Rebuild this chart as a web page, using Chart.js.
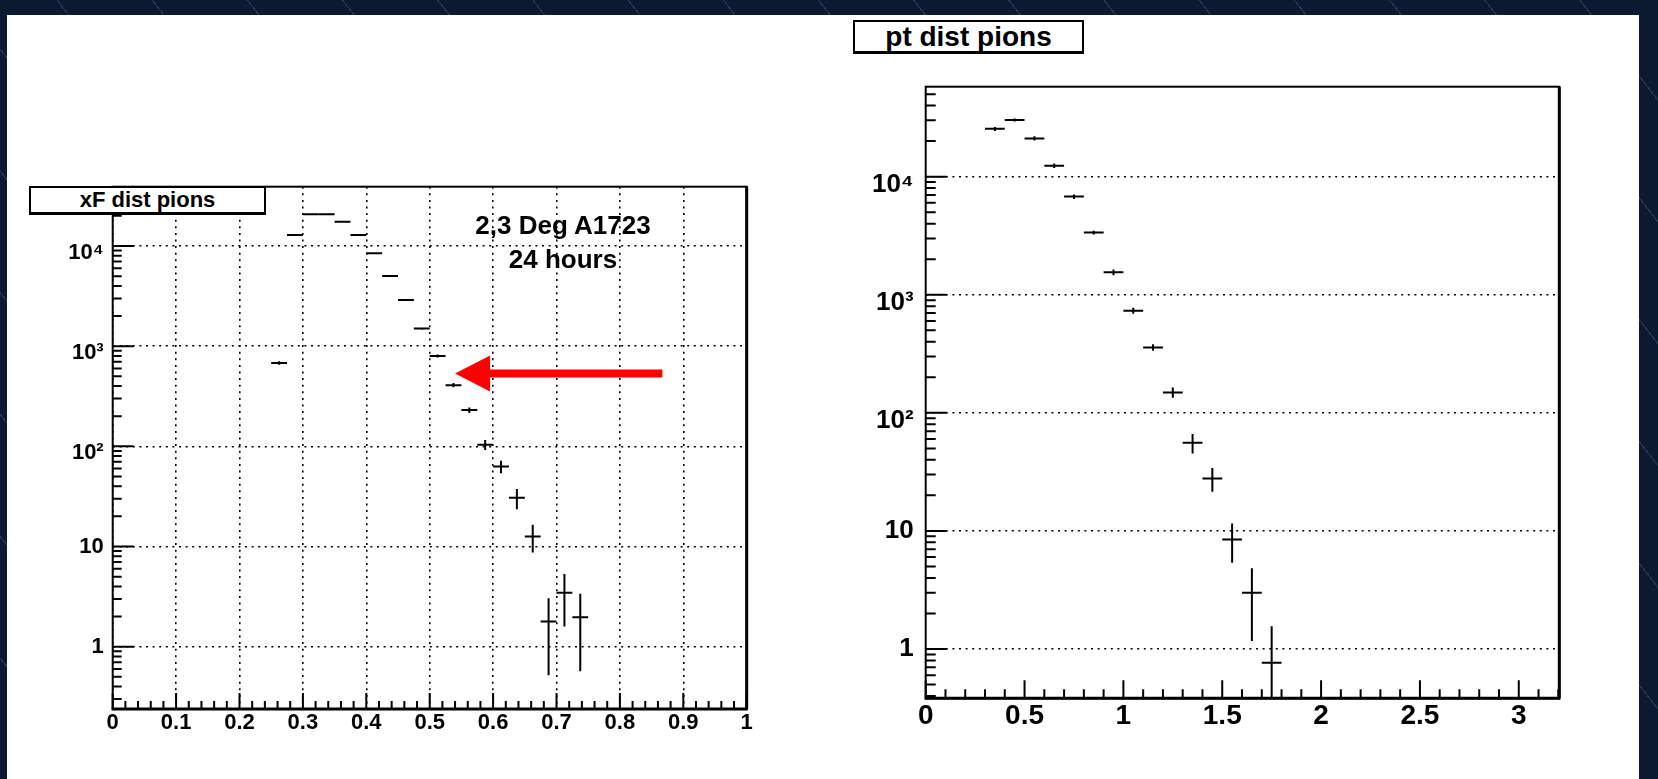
<!DOCTYPE html>
<html>
<head>
<meta charset="utf-8">
<title>xF and pt dist pions</title>
<script src="https://cdn.jsdelivr.net/npm/chart.js@4.4.0/dist/chart.umd.min.js"></script>
<style>
    html, body { margin: 0; padding: 0; }
    body {
        position: relative;
        width: 1658px;
        height: 779px;
        overflow: hidden;
        background-color: #0b1a31;
        background-image: repeating-linear-gradient(52deg, rgba(0,0,0,0) 0 74px, rgba(110,130,165,0.35) 74px 75px);
    }
    .sheet { position: absolute; left: 7px; top: 15px; width: 1632px; height: 764px; background: #fff; z-index: 0; }
    canvas { position: absolute; top: 0; z-index: 1; }
    #xfChart { left: 0; }
    #ptChart { left: 800px; }
    .pave {
        position: absolute;
        z-index: 2;
        box-sizing: border-box;
        background: #fff;
        border: 2px solid #000;
        border-bottom-width: 3px;
        color: #000;
        font-family: "Liberation Sans", "DejaVu Sans", sans-serif;
        font-weight: bold;
        display: flex;
        align-items: center;
        justify-content: center;
    }
    #xfTitle { left: 29px; top: 186px; width: 237px; height: 29px; font-size: 22px; }
    #ptTitle { left: 853px; top: 20px; width: 231px; height: 34px; font-size: 28px; }
    .note {
        position: absolute;
        z-index: 2;
        left: 443px;
        top: 208px;
        width: 240px;
        text-align: center;
        color: #000;
        font-family: "Liberation Sans", "DejaVu Sans", sans-serif;
        font-weight: bold;
        font-size: 26px;
        line-height: 34px;
    }
</style>
</head>
<body>
<div class="sheet"></div>
<canvas id="xfChart" width="800" height="779"></canvas>
<canvas id="ptChart" width="858" height="779"></canvas>
<div class="pave" id="xfTitle">xF dist pions</div>
<div class="pave" id="ptTitle">pt dist pions</div>
<div class="note">2,3 Deg A1723<br>24 hours</div>

<script>
// xF distribution: bin centres, contents, errors
const xfBins = [0.2625, 0.2875, 0.3125, 0.3375, 0.3625, 0.3875, 0.4125, 0.4375, 0.4625, 0.4875,
                0.5125, 0.5375, 0.5625, 0.5875, 0.6125, 0.6375, 0.6625, 0.6875, 0.7125, 0.7375];
const xfCounts = [681, 12900, 20700, 20700, 17500, 12900, 8460, 5020, 2890, 1500,
                  800, 408, 230, 104, 63, 30.6, 12.6, 1.78, 3.46, 1.97];
const xfErrors = [27, 120, 150, 400, 130, 115, 95, 75, 55, 40,
                  28, 20, 15, 12, 9, 7, 3.9, 1.26, 1.87, 1.4];
const xfHalfWidth = 0.0125;

// pt distribution: bin centres, contents, errors
const ptBins = [0.35, 0.45, 0.55, 0.65, 0.75, 0.85, 0.95, 1.05, 1.15, 1.25, 1.35, 1.45, 1.55, 1.65, 1.75];
const ptCounts = [25400, 30200, 21100, 12400, 6780, 3360, 1550, 733, 358, 149, 55.7, 27.8, 8.47, 3.0, 0.766];
const ptErrors = [1000, 900, 900, 550, 300, 120, 90, 43, 23, 15, 10.5, 6.3, 3.1, 1.83, 0.79];
const ptHalfWidth = 0.05;

// tick labels
const xfTickLabels = ["0", "0.1", "0.2", "0.3", "0.4", "0.5", "0.6", "0.7", "0.8", "0.9", "1"];
const ptTickLabels = ["0", "0.5", "1", "1.5", "2", "2.5", "3"];
const decadeValues = [1, 10, 100, 1000, 10000];
const decadeLabels = ["1", "10", "10²", "10³", "10⁴"];

// red arrow on the xF plot (data units)
const arrowTail = { x: 0.867, y: 533 };
const arrowTip = { x: 0.54, y: 533 };

const FONT = '"Liberation Sans", "DejaVu Sans", sans-serif';

function onStep(v, n) {
    return Math.abs(v * n - Math.round(v * n)) < 1e-6;
}

function linearTicks(max, step) {
    const out = [];
    for (let i = 0; i * step <= max + 1e-9; i++) {
        out.push({ value: Math.round(i * step * 1000) / 1000 });
    }
    return out;
}

function logTicks(min, max) {
    const out = [];
    for (let e = Math.floor(Math.log10(min)); e <= Math.ceil(Math.log10(max)); e++) {
        for (let m = 1; m < 10; m++) {
            const v = m * Math.pow(10, e);
            if (v >= min && v <= max) out.push({ value: v, major: m === 1 });
        }
    }
    return out;
}

function decadeLabel(value) {
    const i = decadeValues.indexOf(value);
    if (i < 0) return "";
    return i >= 2 ? ["", decadeLabels[i]] : decadeLabels[i];
}

// horizontal bin width + vertical error, ROOT style
const binErrors = {
    id: "binErrors",
    afterDatasetsDraw(chart) {
        const { ctx, chartArea: a, scales: { x, y } } = chart;
        ctx.save();
        ctx.beginPath();
        ctx.rect(a.left, a.top, a.width, a.height);
        ctx.clip();
        ctx.strokeStyle = "#000";
        ctx.lineWidth = 2;
        chart.data.datasets[0].data.forEach(p => {
            const py = y.getPixelForValue(p.y);
            const px = x.getPixelForValue(p.x);
            const lo = p.y - p.err > y.min ? y.getPixelForValue(p.y - p.err) : a.bottom;
            ctx.beginPath();
            ctx.moveTo(x.getPixelForValue(p.x - p.hw), py);
            ctx.lineTo(x.getPixelForValue(p.x + p.hw), py);
            ctx.moveTo(px, lo);
            ctx.lineTo(px, y.getPixelForValue(p.y + p.err));
            ctx.stroke();
        });
        ctx.restore();
    }
};

// frame and inward tick marks
const rootFrame = {
    id: "rootFrame",
    afterDraw(chart, args, o) {
        const { ctx, chartArea: a, scales: { x, y } } = chart;
        ctx.save();
        ctx.strokeStyle = "#000";
        ctx.lineWidth = 2;
        ctx.beginPath();
        x.ticks.forEach(t => {
            const px = x.getPixelForValue(t.value);
            const len = onStep(t.value, o.xMajorEvery) ? o.xMajor : o.xMinor;
            ctx.moveTo(px, a.bottom);
            ctx.lineTo(px, a.bottom - len);
        });
        y.ticks.forEach(t => {
            const py = y.getPixelForValue(t.value);
            ctx.moveTo(a.left, py);
            ctx.lineTo(a.left + (t.major ? o.yMajor : o.yMinor), py);
        });
        ctx.stroke();
        ctx.strokeRect(a.left, a.top, a.width, a.height);
        ctx.lineWidth = 3;
        ctx.beginPath();
        ctx.moveTo(a.left - 1, a.bottom);
        ctx.lineTo(a.right + 1, a.bottom);
        ctx.moveTo(a.right, a.top);
        ctx.lineTo(a.right, a.bottom);
        ctx.stroke();
        ctx.restore();
    }
};

const redArrow = {
    id: "redArrow",
    afterDraw(chart) {
        const { ctx, scales: { x, y } } = chart;
        const tx = x.getPixelForValue(arrowTail.x);
        const hx = x.getPixelForValue(arrowTip.x);
        const cy = y.getPixelForValue(arrowTip.y);
        const headLen = 35, headHalf = 18, shaftHalf = 4;
        ctx.save();
        ctx.fillStyle = "#ff0000";
        ctx.beginPath();
        ctx.moveTo(hx, cy);
        ctx.lineTo(hx + headLen, cy - headHalf);
        ctx.lineTo(hx + headLen, cy - shaftHalf);
        ctx.lineTo(tx, cy - shaftHalf);
        ctx.lineTo(tx, cy + shaftHalf);
        ctx.lineTo(hx + headLen, cy + shaftHalf);
        ctx.lineTo(hx + headLen, cy + headHalf);
        ctx.closePath();
        ctx.fill();
        ctx.restore();
    }
};

function makePoints(bins, counts, errors, hw) {
    return bins.map((x, i) => ({ x: x, y: counts[i], err: errors[i], hw: hw }));
}

function makeChart(id, cfg) {
    return new Chart(document.getElementById(id), {
        type: "scatter",
        data: {
            datasets: [{
                data: makePoints(cfg.bins, cfg.counts, cfg.errors, cfg.hw),
                pointRadius: 0,
                pointHoverRadius: 0,
                showLine: false
            }]
        },
        options: {
            responsive: false,
            animation: false,
            devicePixelRatio: 1,
            events: [],
            layout: { padding: cfg.padding },
            plugins: {
                legend: { display: false },
                tooltip: { enabled: false },
                rootFrame: cfg.frame
            },
            scales: {
                x: {
                    type: "linear",
                    min: 0,
                    max: cfg.xMax,
                    afterBuildTicks: s => { s.ticks = linearTicks(cfg.xMax, cfg.xStep); },
                    afterFit: s => { s.height = 40; },
                    grid: {
                        drawTicks: false,
                        lineWidth: 1.6,
                        color: c => (cfg.xGrid && c.tick && onStep(c.tick.value, 10)) ? "#000" : "rgba(0,0,0,0)"
                    },
                    border: { display: false, dash: [2, 4.6] },
                    ticks: {
                        autoSkip: false,
                        maxRotation: 0,
                        padding: 1,
                        color: "#000",
                        font: { family: FONT, weight: "bold", size: cfg.xFont },
                        callback: v => onStep(v, cfg.xLabelEvery) ? cfg.xLabels[Math.round(v * cfg.xLabelEvery)] : ""
                    }
                },
                y: {
                    type: "logarithmic",
                    min: cfg.yMin,
                    max: cfg.yMax,
                    afterBuildTicks: s => { s.ticks = logTicks(cfg.yMin, cfg.yMax); },
                    afterFit: s => { s.width = cfg.yWidth; },
                    grid: {
                        drawTicks: false,
                        lineWidth: 1.6,
                        color: c => (c.tick && c.tick.major) ? "#000" : "rgba(0,0,0,0)"
                    },
                    border: { display: false, dash: [2, 4.6] },
                    ticks: {
                        autoSkip: false,
                        padding: cfg.yPad,
                        color: "#000",
                        font: { family: FONT, weight: "bold", size: cfg.yFont, lineHeight: cfg.yLine },
                        callback: v => decadeLabel(v)
                    }
                }
            }
        },
        plugins: cfg.plugins
    });
}

makeChart("xfChart", {
    bins: xfBins, counts: xfCounts, errors: xfErrors, hw: xfHalfWidth,
    padding: { left: 0, top: 186.7, right: 53.3, bottom: 30 },
    xMax: 1, xStep: 0.02, xGrid: true, xLabelEvery: 10, xLabels: xfTickLabels, xFont: 22,
    yMin: 0.2388, yMax: 39100, yWidth: 112.7, yPad: 9, yFont: 22, yLine: 0.6,
    frame: { xMajorEvery: 10, xMajor: 16, xMinor: 8, yMajor: 21, yMinor: 9 },
    plugins: [binErrors, rootFrame, redArrow]
});

makeChart("ptChart", {
    bins: ptBins, counts: ptCounts, errors: ptErrors, hw: ptHalfWidth,
    padding: { left: 0, top: 86.7, right: 98.7, bottom: 40.7 },
    xMax: 3.205, xStep: 0.1, xGrid: false, xLabelEvery: 2, xLabels: ptTickLabels, xFont: 28,
    yMin: 0.3824, yMax: 57800, yWidth: 125.7, yPad: 12, yFont: 26, yLine: 0.6,
    frame: { xMajorEvery: 2, xMajor: 18, xMinor: 9, yMajor: 21, yMinor: 10 },
    plugins: [binErrors, rootFrame]
});
</script>
</body>
</html>
